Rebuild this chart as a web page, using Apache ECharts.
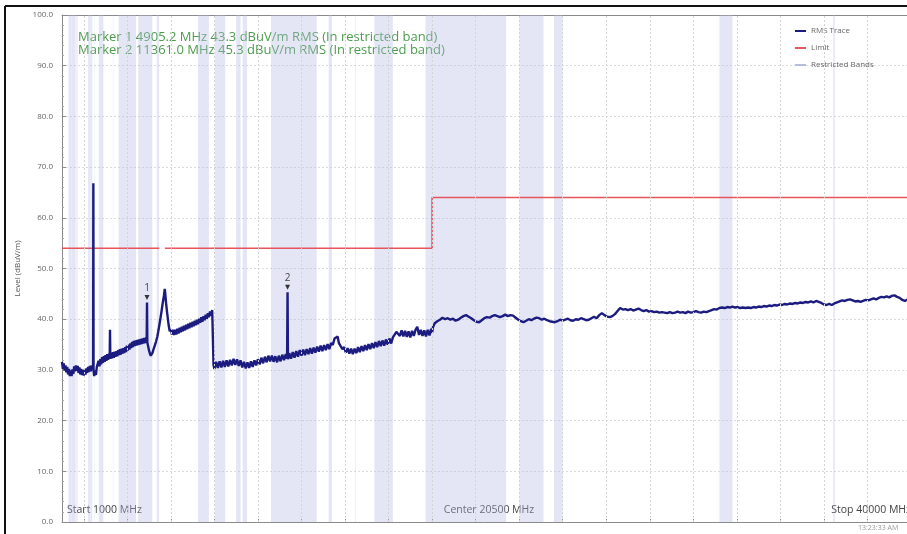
<!DOCTYPE html>
<html><head><meta charset="utf-8">
<script src="https://cdn.jsdelivr.net/npm/echarts@6/dist/echarts.min.js"></script>
<style>html,body{margin:0;padding:0;background:#fff;overflow:hidden}#c{width:907px;height:534px}</style>
</head><body><div id="c"></div>
<script>
// ---- data ----
const rmsTrace = [
[1000,31.6],[1040,30.2],[1080,31.3],[1120,29.9],[1160,30.9],[1200,29.5],[1240,30.6],[1280,29.1],[1320,30.2],[1360,28.8],
[1400,29.9],[1440,28.8],[1480,30.1],[1520,29.2],[1560,30.7],[1600,29.7],[1640,30.9],[1680,29.8],[1720,30.8],[1760,29.4],
[1800,30.5],[1840,29.1],[1880,30.2],[1920,29.0],[1960,30.0],[2000,28.9],[2040,30.1],[2080,29.1],[2120,30.3],[2160,29.4],
[2200,30.6],[2240,29.6],[2280,30.8],[2320,29.7],[2360,30.9],[2400,29.9],[2430,30.6],[2440,66.8],[2450,29.8],[2480,28.8],
[2520,29.9],[2560,29.0],[2600,30.6],[2640,30.4],[2680,31.8],[2720,30.7],[2760,32.1],[2800,31.1],[2840,32.5],[2880,31.4],
[2920,32.7],[2960,31.6],[3000,32.9],[3040,31.8],[3080,33.1],[3120,32.0],[3160,33.2],[3190,32.2],[3205,37.9],[3220,32.2],
[3260,33.3],[3300,32.3],[3340,33.5],[3380,32.4],[3420,33.6],[3460,32.6],[3500,33.7],[3540,32.7],[3580,33.9],[3620,32.9],
[3660,34.1],[3700,33.0],[3740,34.2],[3780,33.2],[3820,34.3],[3860,33.3],[3900,34.5],[3940,33.5],[3980,34.8],[4020,33.8],
[4060,35.0],[4100,34.0],[4140,35.2],[4180,34.3],[4220,35.5],[4260,34.5],[4300,35.7],[4340,34.7],[4380,35.8],[4420,34.8],
[4460,35.9],[4500,34.9],[4540,36.0],[4580,35.0],[4620,36.1],[4660,35.1],[4700,36.2],[4740,35.2],[4780,36.3],[4820,35.3],
[4860,36.4],[4890,35.6],[4905.2,43.3],[4920,35.4],[4960,34.6],[5000,33.8],[5040,33.2],[5080,32.8],[5120,33.1],[5160,33.4],
[5200,34.0],[5260,34.8],[5320,35.6],[5380,36.6],[5440,38.0],[5500,39.6],[5560,41.2],[5620,43.0],[5680,44.6],[5720,46.0],
[5740,45.2],[5780,43.2],[5820,41.6],[5860,40.2],[5900,38.8],[5950,37.6],[6000,38.0],[6050,37.0],[6100,37.9],[6150,36.9],
[6200,37.9],[6250,37.0],[6300,38.1],[6350,37.2],[6400,38.3],[6450,37.4],[6500,38.5],[6550,37.6],[6600,38.7],[6650,37.8],
[6700,38.9],[6750,38.0],[6800,39.1],[6850,38.2],[6900,39.3],[6950,38.4],[7000,39.5],[7050,38.6],[7100,39.7],[7150,38.8],
[7200,39.9],[7250,39.0],[7300,40.1],[7350,39.3],[7400,40.4],[7450,39.5],[7500,40.6],[7550,39.8],[7600,40.9],[7650,40.1],
[7700,41.2],[7750,40.4],[7800,41.5],[7850,40.7],[7900,41.8],[7940,41.5],[7960,31.0],[8000,30.2],[8080,31.6],[8160,30.4],
[8240,31.7],[8320,30.5],[8400,31.8],[8480,30.6],[8560,31.9],[8640,30.7],[8720,32.0],[8800,30.9],[8880,32.2],[8960,31.0],
[9040,32.1],[9120,30.8],[9200,31.9],[9280,30.5],[9360,31.6],[9440,30.3],[9520,31.5],[9600,30.4],[9680,31.7],[9760,30.6],
[9840,31.9],[9920,30.9],[10000,32.1],[10080,31.1],[10160,32.4],[10240,31.3],[10320,32.6],[10400,31.5],[10480,32.8],[10560,31.7],
[10640,32.8],[10720,31.6],[10800,32.7],[10880,31.5],[10960,32.8],[11040,31.7],[11120,33.0],[11200,31.9],[11280,33.1],[11340,32.2],
[11361,45.3],[11380,32.1],[11440,33.3],[11520,32.2],[11600,33.5],[11680,32.4],[11760,33.7],[11840,32.6],[11920,33.9],[12000,32.8],
[12080,34.0],[12160,32.9],[12240,34.1],[12320,33.1],[12400,34.3],[12480,33.2],[12560,34.4],[12640,33.4],[12720,34.6],[12800,33.6],
[12880,34.8],[12960,33.7],[13040,34.9],[13120,33.9],[13200,35.1],[13280,34.1],[13360,35.3],[13440,34.9],[13520,36.2],[13600,35.9],
[13660,36.6],[13720,35.3],[13800,35.3],[13880,34.1],[13960,34.5],[14040,33.4],[14120,34.3],[14200,33.2],[14280,34.2],[14360,33.1],
[14440,34.2],[14520,33.3],[14600,34.5],[14680,33.5],[14760,34.7],[14840,33.7],[14920,34.9],[15000,33.9],[15080,35.1],[15160,34.1],
[15240,35.3],[15320,34.3],[15400,35.5],[15480,34.5],[15560,35.7],[15640,34.7],[15720,35.8],[15800,34.8],[15880,36.0],[15960,35.0],
[16040,36.2],[16120,35.2],[16200,36.4],[16280,36.3],[16360,37.5],[16440,37.3],[16520,36.7],[16600,37.8],[16680,36.6],[16760,37.7],
[16840,36.5],[16920,37.6],[17000,36.4],[17080,37.7],[17160,36.7],[17240,37.9],[17320,38.5],[17400,36.9],[17480,37.9],[17560,36.7],
[17640,37.8],[17720,36.6],[17800,37.9],[17880,36.8],[17960,38.1],[18000,37.3],[18040,38.4],[18120,39.2],[18240,39.6],[18360,39.9],
[18480,40.3],[18600,40.0],[18720,40.2],[18840,39.9],[18960,40.1],[19080,39.7],[19200,39.9],[19320,40.3],[19440,40.6],[19560,40.8],
[19680,40.5],[19800,40.2],[19920,39.8],[20040,39.5],[20160,39.4],[20280,39.8],[20400,40.2],[20520,40.4],[20640,40.3],[20760,40.6],
[20880,40.8],[21000,40.6],[21120,40.4],[21240,40.6],[21360,40.9],[21480,40.6],[21600,40.8],[21720,40.7],[21840,40.3],[21960,39.9],
[22080,39.6],[22200,39.4],[22320,39.7],[22440,40.0],[22560,39.8],[22680,40.1],[22800,40.3],[22920,40.2],[23040,39.9],[23160,40.1],
[23280,39.8],[23400,39.6],[23520,39.5],[23640,39.4],[23760,39.6],[23880,39.9],[24000,39.7],[24120,39.9],[24240,40.1],[24360,39.8],
[24480,39.7],[24600,40.0],[24720,39.9],[24840,40.2],[24960,40.0],[25080,39.8],[25200,39.9],[25320,40.2],[25440,40.5],[25560,40.2],
[25680,40.8],[25800,41.2],[25920,40.8],[26040,40.5],[26160,40.4],[26280,40.6],[26400,41.0],[26520,41.6],[26640,42.2],[26760,41.9],
[26880,42.0],[27000,41.8],[27120,42.0],[27240,41.7],[27360,41.9],[27480,42.1],[27600,41.8],[27720,41.6],[27840,41.8],[27960,41.5],
[28080,41.6],[28200,41.4],[28320,41.5],[28440,41.3],[28560,41.4],[28680,41.3],[28800,41.2],[28920,41.4],[29040,41.2],[29160,41.3],
[29280,41.5],[29400,41.3],[29520,41.4],[29640,41.2],[29760,41.5],[29880,41.3],[30000,41.4],[30120,41.6],[30240,41.4],[30360,41.3],
[30480,41.5],[30600,41.4],[30720,41.6],[30840,41.8],[30960,42.0],[31080,41.9],[31200,42.2],[31320,42.3],[31440,42.2],[31560,42.4],
[31680,42.3],[31800,42.5],[31920,42.3],[32040,42.4],[32160,42.2],[32280,42.3],[32400,42.2],[32520,42.3],[32640,42.2],[32760,42.4],
[32880,42.3],[33000,42.5],[33120,42.4],[33240,42.6],[33360,42.5],[33480,42.7],[33600,42.6],[33720,42.8],[33840,42.7],[33960,42.9],
[34080,42.8],[34200,43.0],[34320,42.9],[34440,43.1],[34560,43.0],[34680,43.2],[34800,43.1],[34920,43.3],[35040,43.2],[35160,43.4],
[35280,43.3],[35400,43.5],[35520,43.3],[35640,43.6],[35760,43.4],[35880,43.2],[36000,42.9],[36120,42.8],[36240,43.0],[36360,42.8],
[36480,43.1],[36600,43.3],[36720,43.5],[36840,43.7],[36960,43.6],[37080,43.8],[37200,43.9],[37320,43.7],[37440,43.5],[37560,43.6],
[37680,43.4],[37800,43.6],[37920,43.8],[38040,43.7],[38160,43.9],[38280,44.1],[38400,43.9],[38520,44.2],[38640,44.4],[38760,44.3],
[38880,44.5],[39000,44.3],[39120,44.6],[39240,44.7],[39360,44.4],[39480,44.2],[39600,43.8],[39720,43.6],[39840,43.9],[39960,43.7],
[40000,43.8]
];
const limitFreqMHz = [1000, 5470, 5600, 5725, 18000, 18000, 40000];
const limitLevel   = [54,   54,   null, 54,   54,    64,    64];
const bandStartMHz = [1300,1435,1645.5,1660,1718.8,2200,2310,2483.5,2690,3260,3332,3345.8,3600,4500,5350,7250,8025,9000,9300,10600,13250,14470,15350,17700,22010,23600,31200,36430];
const bandStopMHz  = [1427,1626.5,1646.5,1710,1722.2,2300,2390,2500,2900,3267,3339,3358,4400,5150,5460,7750,8500,9200,9500,12700,13400,14500,16200,21400,23120,24000,31800,36500];
const markerFreqMHz = [4905.2, 11361.0];
const markerLevel   = [43.3, 45.3];
const xGridMHz = [2000,4000,6000,8000,10000,12000,14000,16000,18000,20000,22000,24000,26000,28000,30000,32000,34000,36000,38000,40000];
const xLabelValues = [1000, 20500, 40000];
const xLabelNames  = ['Start', 'Center', 'Stop'];
const yMin = 0, yMax = 100, yStep = 10;

// ---- chart ----
const FONT = "'Open Sans','Noto Sans',sans-serif";
const chart = echarts.init(document.getElementById('c'), null, {renderer:'canvas'});
const limitData = limitFreqMHz.map((f,i)=>[f, limitLevel[i]===null ? '-' : limitLevel[i]]);
const markerLines = markerFreqMHz.map((f,i)=>`Marker ${i+1} ${f.toFixed(1)} MHz ${markerLevel[i].toFixed(1)} dBuV/m RMS (In restricted band)`);

chart.setOption({
  animation:false,
  backgroundColor:'#fff',
  textStyle:{fontFamily:FONT},
  grid:{left:62, top:15, width:849, height:507, containLabel:false, outerBoundsMode:'none'},
  legend:{
    data:['RMS Trace','Limit','Restricted Bands'],
    orient:'vertical', left:790, top:22,
    itemWidth:11, itemHeight:2, itemGap:9, icon:'rect',
    textStyle:{fontSize:8, color:'#666', fontFamily:FONT}
  },
  xAxis:[{
    type:'value', min:1000, max:40000, position:'bottom',
    axisLine:{show:true, lineStyle:{color:'#8a8a8a', width:1}},
    axisTick:{show:true, inside:true, length:3, customValues:xGridMHz, lineStyle:{color:'#8a8a8a'}},
    axisLabel:{show:true, inside:true, customValues:xLabelValues, margin:6, padding:[0,0,0,5],
      alignMinLabel:'left', alignMaxLabel:'right',
      color:'#444', fontSize:10.5, fontFamily:FONT,
      formatter:v=>{const i=xLabelValues.indexOf(v); return (xLabelNames[i]||'')+' '+v+' MHz';}},
    splitLine:{show:false}
  },{
    type:'value', min:1000, max:40000, position:'top',
    axisLine:{show:true, lineStyle:{color:'#8a8a8a', width:1}},
    axisTick:{show:true, inside:true, length:3, customValues:xGridMHz, lineStyle:{color:'#8a8a8a'}},
    axisLabel:{show:false}, splitLine:{show:false}
  }],
  yAxis:{
    type:'value', min:yMin, max:yMax, interval:yStep,
    name:'Level (dBuV/m)', nameLocation:'middle', nameGap:35, nameRotate:90,
    nameTextStyle:{fontSize:8, color:'#555', fontFamily:FONT},
    axisLine:{show:true, lineStyle:{color:'#8a8a8a'}},
    axisTick:{show:true, inside:true, length:4, lineStyle:{color:'#8a8a8a'}},
    minorTick:{show:true, splitNumber:5, length:2, lineStyle:{color:'#aaa'}},
    axisLabel:{color:'#666', fontSize:8, margin:9, fontFamily:FONT, formatter:v=>v.toFixed(1)},
    splitLine:{show:true, lineStyle:{color:'#dcdcdc', type:[2,2], width:1}}
  },
  series:[
    {
      name:'Restricted Bands', type:'line', data:[], silent:true,
      itemStyle:{color:'#b6bcdc'}, lineStyle:{color:'#b6bcdc'},
      markArea:{silent:true, itemStyle:{color:'rgba(180,186,226,0.36)'},
        data: bandStartMHz.map((s,i)=>[{xAxis:s},{xAxis:bandStopMHz[i]}])}
    },
    {
      name:'grid', type:'line', data:[], silent:true,
      markLine:{silent:true, symbol:['none','none'], label:{show:false},
        lineStyle:{color:'#d4d4d4', type:[2,2], width:1},
        data: xGridMHz.slice(0,-1).map(v=>({xAxis:v}))}
    },
    {
      name:'Limit', type:'line', data:limitData, showSymbol:false, connectNulls:false,
      itemStyle:{color:'#e8545e'}, lineStyle:{color:'#e8545e', width:1.6}, z:3
    },
    {
      name:'RMS Trace', type:'line', data:rmsTrace, showSymbol:false, sampling:null,
      itemStyle:{color:'#1c1c80'}, lineStyle:{color:'#1c1c80', width:2.4}, z:4,
      markPoint:{
        symbol:'triangle', symbolRotate:180, symbolSize:[5,5], symbolOffset:[0,-5],
        itemStyle:{color:'#333'},
        label:{show:true, position:'top', distance:2, color:'#444', fontSize:10, fontFamily:FONT, formatter:p=>p.name},
        data: markerFreqMHz.map((f,i)=>({name:String(i+1), coord:[f, markerLevel[i]]}))
      }
    }
  ],
  graphic:[
    {type:'text', left:78, top:31, style:{text:markerLines[0], fill:'#4c9c4c', font:'13px '+FONT}},
    {type:'text', left:78, top:44, style:{text:markerLines[1], fill:'#4c9c4c', font:'13px '+FONT}},
    {type:'text', left:858, top:524, style:{text:'13:23:33 AM', fill:'#999', font:'7px '+FONT}},
    {type:'line', shape:{x1:5, y1:6, x2:907, y2:6}, style:{stroke:'#111', lineWidth:2}, silent:true, z:100},
    {type:'line', shape:{x1:5, y1:6, x2:5, y2:534}, style:{stroke:'#111', lineWidth:2}, silent:true, z:100}
  ]
});
</script></body></html>
